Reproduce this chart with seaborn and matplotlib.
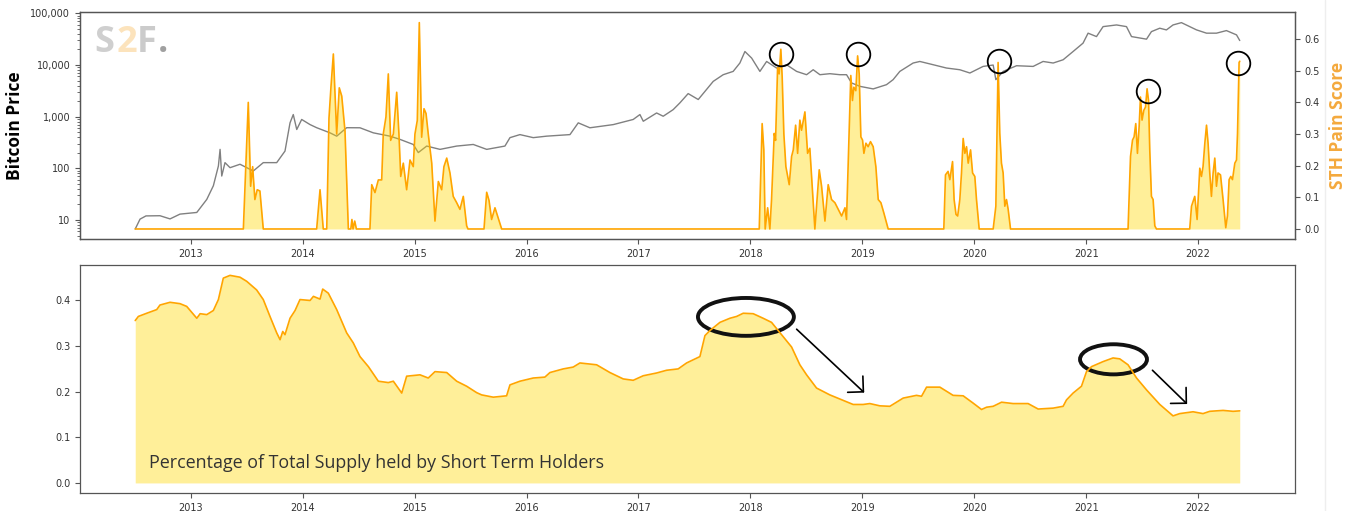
import numpy as np
import pandas as pd
import matplotlib
matplotlib.use("Agg")
import matplotlib.pyplot as plt
import seaborn as sns
from matplotlib.patches import Ellipse
from matplotlib.lines import Line2D
from matplotlib.ticker import FuncFormatter, NullFormatter

# ---- data (x = decimal year) ----

price_year = [2012.504, 2012.547, 2012.600, 2012.725, 2012.815, 2012.904, 2013.054, 2013.143, 2013.202, 2013.247,
              2013.262, 2013.277, 2013.306, 2013.351, 2013.440, 2013.559, 2013.648, 2013.768, 2013.842, 2013.887,
              2013.916, 2013.947, 2013.991, 2014.066, 2014.125, 2014.244, 2014.304, 2014.393, 2014.512, 2014.631,
              2014.780, 2014.869, 2014.988, 2015.033, 2015.108, 2015.227, 2015.376, 2015.524, 2015.644, 2015.807,
              2015.852, 2015.941, 2016.060, 2016.180, 2016.388, 2016.462, 2016.566, 2016.775, 2016.953, 2017.013,
              2017.043, 2017.162, 2017.221, 2017.310, 2017.370, 2017.444, 2017.534, 2017.668, 2017.757, 2017.846,
              2017.906, 2017.951, 2018.011, 2018.085, 2018.145, 2018.234, 2018.323, 2018.413, 2018.502, 2018.561,
              2018.621, 2018.710, 2018.799, 2018.859, 2018.904, 2018.978, 2019.097, 2019.216, 2019.275, 2019.335,
              2019.454, 2019.514, 2019.633, 2019.752, 2019.871, 2019.961, 2020.079, 2020.169, 2020.193, 2020.258,
              2020.378, 2020.526, 2020.615, 2020.705, 2020.794, 2020.883, 2020.972, 2021.017, 2021.092, 2021.151,
              2021.271, 2021.360, 2021.405, 2021.539, 2021.583, 2021.657, 2021.717, 2021.776, 2021.851, 2021.985,
              2022.075, 2022.164, 2022.253, 2022.343, 2022.372]
price_usd = [6.7, 10.4, 12, 12.1, 10.5, 13, 14, 25, 46, 111,
             233, 71, 129, 103, 120, 89, 129, 129, 216, 761,
             1100, 565, 884, 703, 612, 487, 420, 612, 610, 487,
             420, 364, 290, 202, 270, 233, 270, 290, 233, 270,
             393, 450, 393, 420, 450, 760, 610, 703, 884, 1100,
             816, 1180, 1020, 1370, 1850, 2800, 2150, 4830, 6500, 7530,
             10940, 18280, 13650, 7530, 11730, 8750, 10140, 7530, 6500, 8110,
             6500, 6800, 6500, 6500, 4500, 3870, 3450, 4170, 5210, 7530,
             10940, 11730, 10140, 8750, 8110, 7010, 9400, 10000, 5210, 7530,
             9700, 9400, 11730, 10940, 12650, 18280, 26550, 41400, 35560, 55450,
             59730, 55450, 35560, 31700, 44370, 51640, 47860, 59730, 66220, 48000,
             41400, 41400, 46450, 38370, 29800]

pain_year = [2012.504, 2013.470, 2013.514, 2013.535, 2013.553, 2013.573, 2013.594, 2013.618, 2013.648,
             2014.125, 2014.155, 2014.184, 2014.215, 2014.235, 2014.253, 2014.274, 2014.304, 2014.327, 2014.349,
             2014.378, 2014.408, 2014.430, 2014.440, 2014.450, 2014.465, 2014.480,
             2014.601, 2014.617, 2014.646, 2014.676, 2014.706, 2014.720, 2014.744, 2014.765, 2014.786, 2014.810,
             2014.840, 2014.860, 2014.876, 2014.899, 2014.929, 2014.959, 2014.988, 2015.003, 2015.024, 2015.042,
             2015.063, 2015.084, 2015.102, 2015.122, 2015.153, 2015.182, 2015.212, 2015.242, 2015.262, 2015.287,
             2015.316, 2015.345, 2015.376, 2015.405, 2015.435, 2015.465, 2015.477,
             2015.620, 2015.644, 2015.665, 2015.688, 2015.718, 2015.778,
             2018.079, 2018.105, 2018.120, 2018.132, 2018.154, 2018.174, 2018.189, 2018.213, 2018.225, 2018.243,
             2018.257, 2018.272, 2018.284, 2018.299, 2018.317, 2018.347, 2018.368, 2018.383, 2018.404, 2018.422,
             2018.442, 2018.457, 2018.487, 2018.511, 2018.531, 2018.547, 2018.576, 2018.615, 2018.636, 2018.666,
             2018.695, 2018.725, 2018.755, 2018.785, 2018.815, 2018.845, 2018.859, 2018.882, 2018.897, 2018.912,
             2018.924, 2018.942, 2018.958, 2018.972, 2018.987, 2019.002, 2019.014, 2019.032, 2019.052, 2019.073,
             2019.097, 2019.121, 2019.142, 2019.166, 2019.192, 2019.231,
             2019.728, 2019.743, 2019.766, 2019.782, 2019.806, 2019.820, 2019.837, 2019.852, 2019.871, 2019.886,
             2019.901, 2019.916, 2019.931, 2019.946, 2019.967, 2019.985, 2020.005, 2020.020, 2020.044,
             2020.169, 2020.193, 2020.213, 2020.228, 2020.243, 2020.258, 2020.273, 2020.288, 2020.303, 2020.324,
             2021.374, 2021.396, 2021.414, 2021.428, 2021.443, 2021.458, 2021.473, 2021.485, 2021.499, 2021.515,
             2021.530, 2021.544, 2021.557, 2021.568, 2021.583, 2021.598, 2021.613, 2021.628,
             2021.925, 2021.941, 2021.970, 2021.991, 2022.015, 2022.030, 2022.044, 2022.060, 2022.075, 2022.089,
             2022.104, 2022.119, 2022.134, 2022.149, 2022.164, 2022.178, 2022.200, 2022.223, 2022.247, 2022.262,
             2022.277, 2022.292, 2022.307, 2022.328, 2022.343, 2022.352, 2022.366, 2022.372]
pain_score = [0, 0, 0.40, 0.135, 0.197, 0.093, 0.124, 0.12, 0,
              0, 0.124, 0, 0, 0.35, 0.45, 0.553, 0.30, 0.446, 0.42,
              0.31, 0, 0, 0.03, 0, 0.025, 0,
              0, 0.14, 0.115, 0.155, 0.155, 0.30, 0.354, 0.49, 0.28, 0.30,
              0.432, 0.30, 0.166, 0.208, 0.124, 0.218, 0.197, 0.30, 0.343, 0.652,
              0.29, 0.38, 0.365, 0.30, 0.208, 0.025, 0.15, 0.124, 0.197, 0.224,
              0.177, 0.103, 0.083, 0.062, 0.103, 0.01, 0,
              0, 0.116, 0.09, 0.03, 0.067, 0,
              0, 0.333, 0.25, 0, 0.067, 0, 0.093, 0.302, 0.28, 0.51,
              0.49, 0.568, 0.48, 0.30, 0.197, 0.14, 0.229, 0.25, 0.328, 0.239,
              0.344, 0.312, 0.37, 0.239, 0.255, 0.166, 0, 0.187, 0.135, 0.025,
              0.14, 0.093, 0.083, 0.062, 0.041, 0.067, 0.03, 0.302, 0.485, 0.406,
              0.448, 0.437, 0.547, 0.49, 0.291, 0.281, 0.239, 0.271, 0.26, 0.276,
              0.26, 0.197, 0.093, 0.083, 0.051, 0,
              0, 0.171, 0.182, 0.156, 0.213, 0.093, 0.046, 0.041, 0.093, 0.177,
              0.286, 0.239, 0.26, 0.208, 0.25, 0.177, 0.166, 0.093, 0,
              0, 0.072, 0.526, 0.302, 0.208, 0.177, 0.072, 0.093, 0.062, 0,
              0, 0.229, 0.281, 0.291, 0.333, 0.239, 0.323, 0.417, 0.344, 0.375,
              0.385, 0.443, 0.406, 0.25, 0.103, 0.093, 0.01, 0,
              0, 0.072, 0.103, 0.03, 0.192, 0.166, 0.197, 0.271, 0.328, 0.271,
              0.177, 0.103, 0.177, 0.224, 0.135, 0.177, 0.171, 0.093, 0.004, 0.041,
              0.156, 0.166, 0.156, 0.208, 0.218, 0.302, 0.526, 0.53]

sth_year = [2012.504, 2012.532, 2012.607, 2012.696, 2012.725, 2012.815, 2012.904, 2012.964, 2013.054, 2013.084,
            2013.143, 2013.202, 2013.247, 2013.291, 2013.351, 2013.440, 2013.500, 2013.589, 2013.648, 2013.708,
            2013.768, 2013.798, 2013.822, 2013.842, 2013.887, 2013.932, 2013.976, 2014.066, 2014.096, 2014.155,
            2014.179, 2014.229, 2014.304, 2014.393, 2014.452, 2014.512, 2014.587, 2014.676, 2014.765, 2014.810,
            2014.885, 2014.929, 2015.048, 2015.122, 2015.182, 2015.287, 2015.376, 2015.465, 2015.554, 2015.599,
            2015.703, 2015.822, 2015.852, 2015.941, 2016.060, 2016.164, 2016.209, 2016.328, 2016.417, 2016.477,
            2016.626, 2016.745, 2016.864, 2016.953, 2017.043, 2017.162, 2017.251, 2017.355, 2017.430, 2017.549,
            2017.594, 2017.638, 2017.728, 2017.817, 2017.877, 2017.936, 2018.025, 2018.114, 2018.189, 2018.279,
            2018.368, 2018.442, 2018.502, 2018.591, 2018.710, 2018.829, 2018.918, 2019.007, 2019.067, 2019.157,
            2019.246, 2019.365, 2019.484, 2019.529, 2019.574, 2019.693, 2019.811, 2019.901, 2019.990, 2020.065,
            2020.110, 2020.169, 2020.244, 2020.347, 2020.481, 2020.571, 2020.705, 2020.794, 2020.824, 2020.883,
            2020.958, 2021.003, 2021.048, 2021.151, 2021.240, 2021.300, 2021.374, 2021.450, 2021.539, 2021.658,
            2021.776, 2021.836, 2021.955, 2022.044, 2022.104, 2022.223, 2022.312, 2022.372]
sth_share = [0.356, 0.365, 0.372, 0.38, 0.39, 0.396, 0.393, 0.387, 0.361, 0.371,
             0.369, 0.378, 0.402, 0.449, 0.455, 0.451, 0.442, 0.423, 0.402, 0.365,
             0.329, 0.314, 0.332, 0.325, 0.361, 0.378, 0.402, 0.40, 0.409, 0.403,
             0.425, 0.416, 0.38, 0.329, 0.307, 0.277, 0.255, 0.223, 0.22, 0.223,
             0.197, 0.234, 0.237, 0.23, 0.244, 0.242, 0.223, 0.212, 0.198, 0.193,
             0.188, 0.191, 0.215, 0.223, 0.23, 0.232, 0.242, 0.25, 0.254, 0.263,
             0.259, 0.242, 0.228, 0.225, 0.235, 0.241, 0.247, 0.25, 0.263, 0.277,
             0.323, 0.334, 0.352, 0.361, 0.365, 0.372, 0.371, 0.361, 0.352, 0.325,
             0.298, 0.259, 0.237, 0.208, 0.193, 0.181, 0.172, 0.172, 0.174, 0.169,
             0.168, 0.186, 0.192, 0.19, 0.21, 0.21, 0.192, 0.191, 0.175, 0.161,
             0.166, 0.168, 0.177, 0.174, 0.174, 0.162, 0.164, 0.168, 0.182, 0.197,
             0.212, 0.244, 0.255, 0.266, 0.274, 0.272, 0.259, 0.23, 0.204, 0.172,
             0.147, 0.152, 0.156, 0.152, 0.157, 0.159, 0.157, 0.158]

# circled peaks (top) and highlighted tops + arrows (bottom)
circle_year = [2018.272, 2018.960, 2020.219, 2021.550, 2022.354]
circle_score = [0.554, 0.554, 0.532, 0.435, 0.525]

oval_center = [(2017.96, 0.364), (2021.244, 0.271)]
oval_size = [(0.857, 0.083), (0.598, 0.066)]
arrow_from = [(2018.413, 0.337), (2021.592, 0.247)]
arrow_to = [(2019.017, 0.198), (2021.902, 0.173)]

years = list(range(2013, 2023))

# ---- plotting ----
sns.set_style("ticks")
plt.rcParams['font.family'] = ['DejaVu Sans']
spine_col = "#555555"

fig = plt.figure(figsize=(13.56, 5.11), dpi=100)
ax = fig.add_axes([0.0590, 0.5317, 0.8960, 0.4442])
ax2 = ax.twinx()
ax3 = fig.add_axes([0.0590, 0.0346, 0.8960, 0.4468])

# top: price (log) + pain score
sns.lineplot(x=price_year, y=price_usd, ax=ax, color="grey", linewidth=1.0)
ax.set_yscale("log")
ax.set_yticks([10, 100, 1000, 10000, 100000])
ax.yaxis.set_major_formatter(FuncFormatter(lambda v, p: "{:,.0f}".format(v)))
ax.yaxis.set_minor_formatter(NullFormatter())

sns.lineplot(x=pain_year, y=pain_score, ax=ax2, color="orange", linewidth=1.2)
ax2.fill_between(pain_year, pain_score, color="gold", alpha=0.4, linewidth=0)
ax2.plot(circle_year, circle_score, "o", ms=17, mfc="none", mec="black", mew=1.3)

# bottom: share held by STH
sns.lineplot(x=sth_year, y=sth_share, ax=ax3, color="orange", linewidth=1.2)
ax3.fill_between(sth_year, sth_share, color="gold", alpha=0.4, linewidth=0)
for (cx, cy), (w, h) in zip(oval_center, oval_size):
    ax3.add_patch(Ellipse((cx, cy), w, h, fill=False, ec="#111111", lw=2.8))
for a, b in zip(arrow_from, arrow_to):
    ax3.annotate("", xy=b, xytext=a,
                 arrowprops=dict(arrowstyle="->,head_length=0.8,head_width=0.8",
                                 color="black", lw=1.2, shrinkA=0, shrinkB=0))
ax3.text(0.0568, 0.111, "Percentage of Total Supply held by Short Term Holders",
         transform=ax3.transAxes, fontsize=12.85, family="Open Sans", color="#333333", va="baseline")

for a in (ax, ax3):
    a.set_xticks(years)
    a.set_xticklabels([str(y) for y in years])

for a in (ax, ax2, ax3):
    a.set_xlabel("")
    a.set_ylabel("")
    a.tick_params(labelsize=7, colors=spine_col, labelcolor="#333333", length=3.5, width=0.8)
    for s in a.spines.values():
        s.set_color(spine_col)
        s.set_linewidth(0.9)
ax.tick_params(which="minor", colors=spine_col, length=2, width=0.6)

ax.set_ylabel("Bitcoin Price", fontsize=12.5, fontweight="bold", family="Open Sans", color="black")
ax.yaxis.set_label_coords(-0.0461, 0.5)
ax2.set_ylabel("STH Pain Score", fontsize=12.5, fontweight="bold", family="Open Sans", color="#F4A93D")
ax2.yaxis.set_label_coords(1.028, 0.5)

# S2F. logo
logo = [("S", 94.5, "#CFCFCF"), ("2", 116.5, "#FCE3BC"), ("F", 137.0, "#CBCBCB"), (".", 157.5, "#A0A0A0")]
for ch, px, col in logo:
    fig.text(px / 1356, 1 - 52.3 / 511, ch, fontsize=26, fontweight="bold", family="Open Sans",
             color=col, ha="left", va="baseline")

fig.add_artist(Line2D([1325 / 1356, 1325 / 1356], [0, 1], transform=fig.transFigure, color="#EEEEEE", lw=1))

fig.savefig("out.png", dpi=100)
